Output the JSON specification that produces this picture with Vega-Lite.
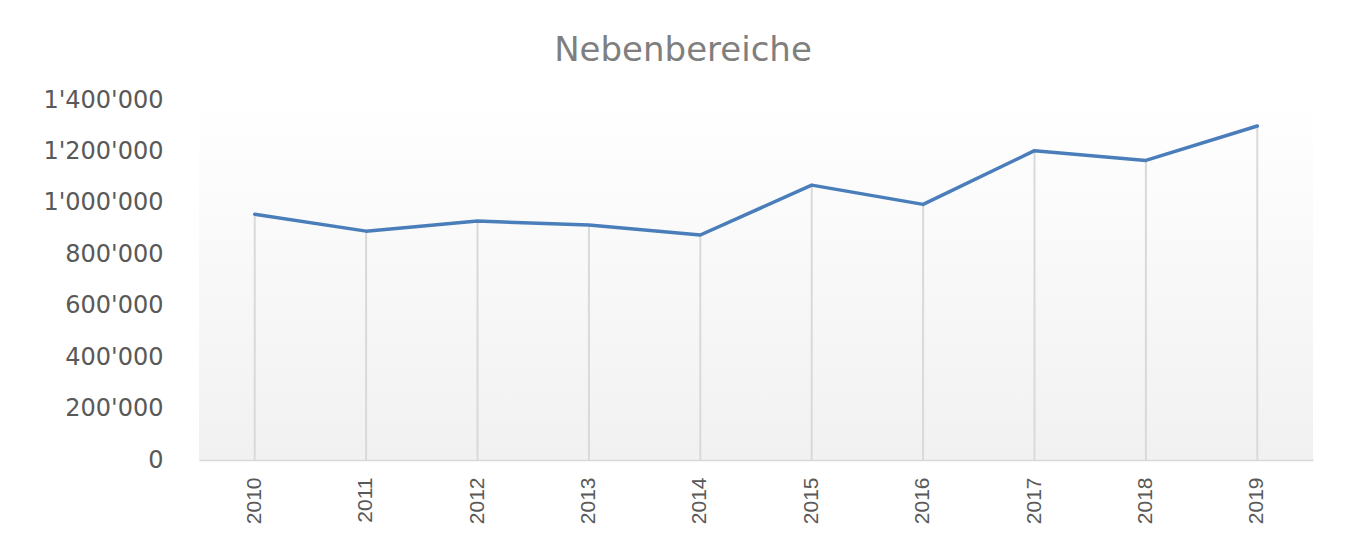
{
  "$schema": "https://vega.github.io/schema/vega-lite/v6.json",
  "autosize": {"type": "none"},
  "width": 1114,
  "height": 360,
  "padding": {"left": 199, "top": 100, "right": 49, "bottom": 73},
  "background": "#ffffff",
  "config": {
    "locale": {"number": {"decimal": ".", "thousands": "'", "grouping": [3], "currency": ["", ""]}},
    "view": {
      "stroke": null,
      "fill": {"gradient": "linear", "x1": 0, "y1": 0, "x2": 0, "y2": 1,
        "stops": [{"offset": 0, "color": "#ffffff"}, {"offset": 1, "color": "#f1f1f1"}]}
    }
  },
  "title": {
    "text": "Nebenbereiche",
    "font": "DejaVu Sans",
    "fontSize": 34,
    "fontWeight": "normal",
    "color": "#7f7f7f",
    "anchor": "middle",
    "dx": -73,
    "offset": 20
  },
  "data": {
    "values": [
      {"year": "2010", "value": 956000},
      {"year": "2011", "value": 890000},
      {"year": "2012", "value": 929000},
      {"year": "2013", "value": 914000},
      {"year": "2014", "value": 875000},
      {"year": "2015", "value": 1069000},
      {"year": "2016", "value": 994000},
      {"year": "2017", "value": 1203000},
      {"year": "2018", "value": 1165000},
      {"year": "2019", "value": 1299000}
    ]
  },
  "encoding": {
    "x": {
      "field": "year", "type": "ordinal",
      "scale": {"type": "band", "paddingInner": 0, "paddingOuter": 0},
      "axis": {
        "title": null, "labelAngle": -90, "labelPadding": 17, "ticks": false,
        "domainColor": "#d9d9d9", "domainWidth": 1.5,
        "labelFont": "Liberation Sans", "labelFontSize": 21, "labelColor": "#595959"
      }
    },
    "y": {
      "field": "value", "type": "quantitative",
      "scale": {"domain": [0, 1400000]},
      "axis": {
        "title": null, "values": [0, 200000, 400000, 600000, 800000, 1000000, 1200000, 1400000],
        "format": ",d", "grid": false, "domain": false, "ticks": false, "labelPadding": 36,
        "labelFont": "DejaVu Sans", "labelFontSize": 24, "labelColor": "#595959"
      }
    }
  },
  "layer": [
    {
      "mark": {"type": "rule", "color": "#d9d9d9", "strokeWidth": 2},
      "encoding": {"y2": {"datum": 0}}
    },
    {
      "mark": {"type": "line", "color": "#4a7ebb", "strokeWidth": 3.5, "strokeCap": "round", "strokeJoin": "round"}
    }
  ]
}
